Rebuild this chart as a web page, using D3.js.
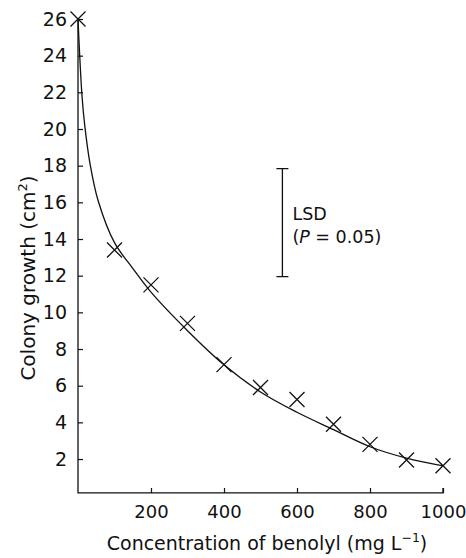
<!DOCTYPE html>
<html>
<head>
<meta charset="utf-8">
<script src="https://cdn.jsdelivr.net/npm/d3@7"></script>
<style>
  body { margin: 0; background: #fff; }
  text { font-family: "DejaVu Sans", sans-serif; fill: #111; }
</style>
</head>
<body>
<div id="chart"></div>
<script>
var width = 466,
    height = 558;

// observed means
var concentration = [0, 100, 200, 300, 400, 500, 600, 700, 800, 900, 1000];
var growth = [26, 13.4, 11.5, 9.4, 7.15, 5.9, 5.25, 3.9, 2.8, 1.95, 1.63];

// fitted curve
var curveX = [0, 11, 19, 33, 55, 100, 150, 200, 300, 400, 500, 600, 700, 800, 900, 1000];
var curveY = [26, 21.8, 20.1, 18.1, 16.1, 13.8, 12.4, 11.1, 9.0, 7.14, 5.66, 4.55, 3.6, 2.67, 2.05, 1.63];

var xTicks = [200, 400, 600, 800, 1000];
var yTicks = [2, 4, 6, 8, 10, 12, 14, 16, 18, 20, 22, 24, 26];

// LSD bar
var lsdX = 560, lsdTop = 17.84, lsdBottom = 11.95;

var x = d3.scaleLinear().domain([0, 1000]).range([78, 443]);
var y = d3.scaleLinear().domain([0, 26]).range([495.7, 19]);
var y0 = 0.15;

var svg = d3.select('#chart')
    .append('svg')
    .attr('width', width)
    .attr('height', height);

var ink = '#111';

// axes
var xAxis = svg.append('g')
    .attr('transform', 'translate(0,' + y(y0) + ')')
    .call(d3.axisBottom(x).tickValues(xTicks).tickFormat(d3.format('d'))
        .tickSizeInner(-5).tickSizeOuter(0).tickPadding(12));
var yAxis = svg.append('g')
    .attr('transform', 'translate(' + x(0) + ',0)')
    .call(d3.axisLeft(y).tickValues(yTicks).tickSizeInner(-5).tickSizeOuter(0).tickPadding(11));

[xAxis, yAxis].forEach(function (g) {
    g.select('.domain').remove();
    g.selectAll('line').attr('stroke', ink).attr('stroke-width', 1.2);
    g.selectAll('text').attr('fill', ink)
        .style('font-family', '"DejaVu Sans", sans-serif');
});
xAxis.selectAll('text').attr('font-size', 18);
yAxis.selectAll('text').attr('font-size', 19);

svg.append('path')
    .attr('d', 'M' + x(0) + ',' + y(26) + 'V' + y(y0) + 'H' + x(1000) + 'V' + (y(y0) - 5))
    .attr('fill', 'none')
    .attr('stroke', ink)
    .attr('stroke-width', 1.3);

// fitted curve
var pts = curveX.map(function (d, i) { return [d, curveY[i]]; });
svg.append('path')
    .datum(pts)
    .attr('fill', 'none')
    .attr('stroke', ink)
    .attr('stroke-width', 1.3)
    .attr('d', d3.line()
        .x(function (d) { return x(d[0]); })
        .y(function (d) { return y(d[1]); })
        .curve(d3.curveCatmullRom));

// cross markers
var s = 7.5;
svg.selectAll('.mark')
    .data(concentration)
    .enter()
    .append('path')
    .attr('class', 'mark')
    .attr('d', function (d, i) {
        var cx = x(d), cy = y(growth[i]);
        return 'M' + (cx - s) + ',' + (cy - s) + 'L' + (cx + s) + ',' + (cy + s) +
            'M' + (cx - s) + ',' + (cy + s) + 'L' + (cx + s) + ',' + (cy - s);
    })
    .attr('stroke', ink)
    .attr('stroke-width', 1.3)
    .attr('fill', 'none');

// LSD bar
var lx = x(lsdX);
svg.append('path')
    .attr('d', 'M' + (lx - 6) + ',' + y(lsdTop) + 'H' + (lx + 6) +
        'M' + lx + ',' + y(lsdTop) + 'V' + y(lsdBottom) +
        'M' + (lx - 6) + ',' + y(lsdBottom) + 'H' + (lx + 6))
    .attr('stroke', ink)
    .attr('stroke-width', 1.3)
    .attr('fill', 'none');

svg.append('text')
    .attr('x', lx + 10)
    .attr('y', 220)
    .attr('font-size', 17.5)
    .text('LSD');
var p = svg.append('text')
    .attr('x', lx + 10)
    .attr('y', 243)
    .attr('font-size', 17.5);
p.append('tspan').text('(');
p.append('tspan').attr('font-style', 'italic').text('P');
p.append('tspan').text(' = 0.05)');

// axis titles
var xt = svg.append('text')
    .attr('x', 267)
    .attr('y', 550)
    .attr('text-anchor', 'middle')
    .attr('font-size', 19);
xt.append('tspan').text('Concentration of benolyl (mg L');
xt.append('tspan').attr('font-size', 12.5).attr('dy', -8).text('\u22121');
xt.append('tspan').attr('dy', 8).text(')');

var yt = svg.append('text')
    .attr('transform', 'translate(35,278) rotate(-90)')
    .attr('text-anchor', 'middle')
    .attr('font-size', 20);
yt.append('tspan').text('Colony growth (cm');
yt.append('tspan').attr('font-size', 13).attr('dy', -8).text('2');
yt.append('tspan').attr('dy', 8).text(')');
</script>
</body>
</html>
